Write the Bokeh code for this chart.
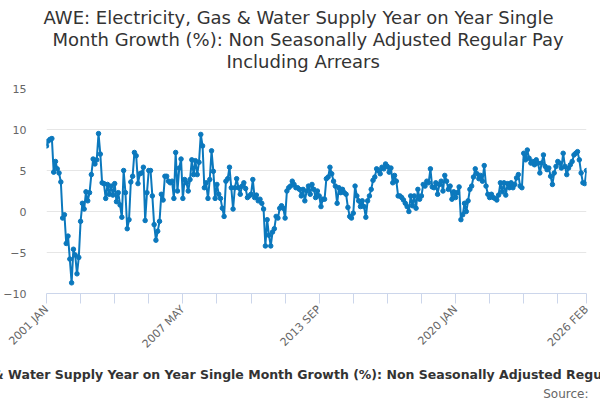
import math
from bokeh.plotting import figure
from bokeh.models import FixedTicker, Title, Range1d, ColumnDataSource
from bokeh.embed import file_html
from bokeh.resources import INLINE

MONTH_NAMES = ["JAN", "FEB", "MAR", "APR", "MAY", "JUN", "JUL", "AUG", "SEP", "OCT", "NOV", "DEC"]
periods = [f"{2001 + k // 12} {MONTH_NAMES[k % 12]}" for k in range(302)]

growth = [
    8.0, 8.6, 8.8, 8.9, 4.8, 6.1, 5.2, 4.7, 3.6, -0.8,
    -0.4, -3.9, -3.0, -5.8, -8.7, -4.6, -5.3, -7.6, -5.6, -1.2,
    1.0, 0.3, 2.4, 1.3, 2.3, 4.5, 6.4, 5.8, 6.3, 9.5,
    7.0, 3.5, 3.4, 1.6, 3.3, 2.1, 3.1, 2.0, 3.4, 1.2,
    2.3, 0.8, -0.7, 5.0, 2.3, -2.1, -1.0, 3.6, 4.3, 7.2,
    6.8, 3.4, 4.6, 4.7, 5.4, -1.1, 2.3, 5.0, 5.0, 1.9,
    -1.6, -3.5, -2.4, -1.2, 2.1, 1.4, 4.3, 4.3, 3.7, 3.5,
    3.7, 1.6, 7.2, 2.5, 5.3, 6.4, 1.6, 3.9, 3.5, 2.5,
    3.9, 6.3, 4.5, 6.2, 4.5, 6.0, 9.4, 8.0, 2.9, 3.5,
    1.6, 3.9, 7.4, 4.9, 1.6, 3.3, 2.1, 1.6, 0.4, -0.6,
    3.7, 4.0, 5.4, 2.9, 0.3, 2.9, 4.0, 2.9, 2.1, 3.1,
    3.5, 2.8, 1.7, 1.9, 2.1, 3.9, 1.7, 2.0, 1.3, 1.5,
    1.0, 0.3, -4.2, -1.0, -2.9, -4.2, -2.5, -2.1, -0.6, -0.8,
    0.4, 0.7, 0.4, -0.8, 2.5, 2.9, 3.1, 3.7, 3.3, 2.9,
    2.9, 2.7, 1.9, 2.7, 1.3, 2.5, 3.1, 2.1, 3.3, 2.7,
    1.7, 2.5, 1.9, 0.6, 1.5, 1.5, 4.0, 4.2, 5.4, 4.6,
    3.7, 3.1, 1.0, 2.9, 2.3, 2.7, 2.3, 2.1, 0.5, -0.6,
    -0.8, -0.2, 3.1, 1.9, 1.3, 0.6, 1.3, 0.6, -0.7, 1.3,
    1.9, 2.7, 3.8, 4.2, 5.2, 5.0, 4.6, 5.4, 5.2, 5.8,
    5.5, 4.8, 5.3, 3.5, 4.4, 3.7, 1.9, 1.9, 1.7, 1.4,
    1.0, 0.6, 0.0, 1.9, 0.7, 1.9, 0.4, 2.7, 1.5, 1.9,
    3.3, 3.1, 3.7, 3.5, 5.2, 3.0, 2.9, 3.5, 2.1, 3.3,
    3.7, 2.5, 4.4, 3.7, 2.7, 3.1, 1.5, 2.4, 1.7, 2.3,
    3.0, -1.0, -0.4, 1.0, 0.0, 1.3, 2.7, 3.1, 4.2, 5.2,
    4.6, 4.0, 4.4, 3.7, 5.6, 3.1, 2.1, 1.7, 2.1, 1.7,
    1.6, 1.4, 2.0, 3.5, 2.4, 3.5, 2.0, 3.4, 2.9, 3.5,
    2.9, 3.3, 4.1, 4.5, 3.1, 2.9, 7.1, 6.3, 7.5, 6.5,
    5.9, 6.1, 5.7, 6.3, 5.9, 4.7, 5.9, 6.9, 5.5, 5.1,
    5.3, 4.3, 3.3, 4.7, 5.5, 6.1, 5.9, 5.3, 7.1, 5.5,
    4.5, 5.3, 5.7, 6.1, 6.9, 7.1, 7.3, 6.3, 4.7, 3.5,
    3.4, 5.0,
]

y_ticks = [-10, -5, 0, 5, 10, 15]
x_tick_idx = list(range(0, len(periods), 19)) + [len(periods) - 1]
x_label_idx = [0, 76, 152, 228, len(periods) - 1]

TITLE = "AWE: Electricity, Gas & Water Supply Year on Year Single Month Growth (%): Non Seasonally Adjusted Regular Pay Including Arrears"
TITLE_LINES = ["AWE: Electricity, Gas & Water Supply Year on Year Single",
               "Month Growth (%): Non Seasonally Adjusted Regular Pay",
               "Including Arrears"]
SOURCE = "Source:"

FONT = "DejaVu Sans"
COLOR = "#0b78bd"

src = ColumnDataSource(dict(x=list(range(len(growth))), y=growth, period=periods))

p = figure(width=600, height=400, output_backend="svg", toolbar_location=None, title=None,
           x_range=Range1d(0, len(periods) - 1), y_range=Range1d(-10, 15),
           min_border_left=42, min_border_right=14, min_border_top=88, min_border_bottom=107)
p.outline_line_color = None
p.background_fill_color = "white"

# spacer between the frame and the title block (innermost "above" panel)
p.add_layout(Title(text=" ", text_font_size="1px", standoff=14), "above")
# title lines, innermost first; left-anchored so each line is centred on the page
line_offsets = [-3, 6, 180]
for line, off in reversed(list(zip(TITLE_LINES, line_offsets))):
    p.add_layout(Title(text=line, align="left", offset=off, text_font=FONT,
                       text_font_size="18px", text_font_style="normal",
                       text_color="#333333", text_line_height=1.0, standoff=-1), "above")

# y axis
p.yaxis.ticker = FixedTicker(ticks=y_ticks)
p.yaxis.axis_line_color = None
p.yaxis.major_tick_line_color = None
p.yaxis.minor_tick_line_color = None
p.yaxis.major_label_text_font = FONT
p.yaxis.major_label_text_font_size = "11px"
p.yaxis.major_label_text_color = "#666666"
p.yaxis.major_label_standoff = 14
p.ygrid.ticker = FixedTicker(ticks=y_ticks)
p.ygrid.grid_line_color = "#e6e6e6"
p.xgrid.visible = False

# x axis
p.xaxis.ticker = FixedTicker(ticks=x_tick_idx)
p.xaxis.major_label_overrides = {i: (periods[i] if i in x_label_idx else "") for i in x_tick_idx}
p.xaxis.major_label_orientation = math.pi / 4
p.xaxis.axis_line_color = "#ccd6eb"
p.xaxis.major_tick_line_color = "#ccd6eb"
p.xaxis.major_tick_out = 10
p.xaxis.major_tick_in = 0
p.xaxis.minor_tick_line_color = None
p.xaxis.major_label_text_font = FONT
p.xaxis.major_label_text_font_size = "11px"
p.xaxis.major_label_text_color = "#666666"
p.xaxis.major_label_standoff = 4

p.line("x", "y", source=src, line_width=2, line_color=COLOR)
p.scatter("x", "y", source=src, size=4.5, fill_color=COLOR, line_color=COLOR)

cap = Title(text=TITLE, align="left", offset=-204, text_font=FONT, text_font_size="12.5px",
            text_font_style="bold", text_color="#333333", standoff=12)
p.add_layout(cap, "below")
srcnote = Title(text=SOURCE, align="right", offset=-2, text_font=FONT, text_font_size="12px",
                text_font_style="normal", text_color="#666666", standoff=-5)
p.add_layout(srcnote, "below")

open("out.html", "w").write(file_html(p, INLINE))
